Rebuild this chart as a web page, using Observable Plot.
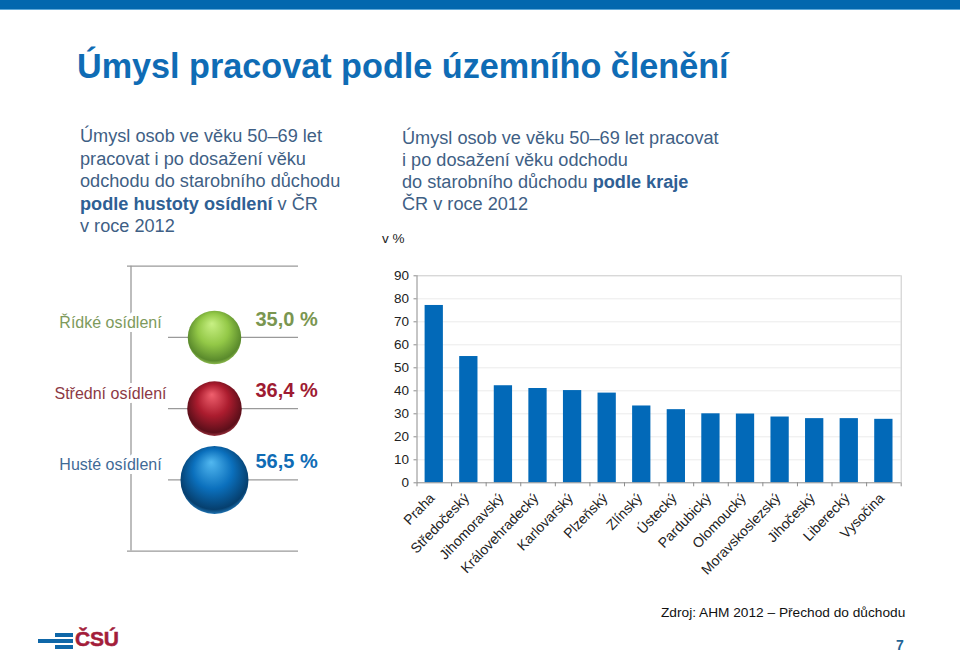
<!DOCTYPE html>
<html lang="cs">
<head>
<meta charset="utf-8">
<script src="https://cdn.jsdelivr.net/npm/d3@7"></script>
<script src="https://cdn.jsdelivr.net/npm/@observablehq/plot@0.6"></script>
<style>
html,body{margin:0;padding:0;background:#fff;}
#page{position:relative;width:960px;height:653px;overflow:hidden;font-family:"Liberation Sans",Arial,sans-serif;}
#page>*{position:absolute;}
#topbar{left:0;top:0;width:960px;height:9px;background:#0267ae;border-bottom:1px solid #5fa8d8;}
#title{left:77px;top:44px;margin:0;font-size:34.2px;font-weight:bold;color:#0f6cb5;line-height:44px;white-space:nowrap;}
.para{font-size:18.15px;line-height:22.6px;color:#3f5f85;white-space:nowrap;}
.para b{color:#2f6094;}
#left-text{left:80px;top:125px;}
#right-text{left:402px;top:127px;line-height:22px;}
#unit{left:382px;top:231px;font-size:13.5px;color:#222;}
#source{left:661px;top:605px;font-size:13.7px;color:#111;white-space:nowrap;}
#pageno{left:896px;top:637px;font-size:14px;font-weight:bold;color:#1f6596;}
#logo-text{left:75px;top:627px;font-size:21px;font-weight:bold;color:#a31d3a;line-height:24px;letter-spacing:-0.2px;-webkit-text-stroke:0.5px #a31d3a;}
.logo-bar{background:#0f67a8;}
#sphere-plot{left:40px;top:255px;}
#bar-plot{left:370px;top:255px;}
</style>
</head>
<body>
<div id="page">
  <div id="topbar"></div>
  <h1 id="title">Úmysl pracovat podle územního členění</h1>
  <div id="left-text" class="para">Úmysl osob ve věku 50–69 let<br>pracovat i po dosažení věku<br>odchodu do starobního důchodu<br><b>podle hustoty osídlení</b> v ČR<br>v roce 2012</div>
  <div id="right-text" class="para">Úmysl osob ve věku 50–69 let pracovat<br>i po dosažení věku odchodu<br>do starobního důchodu <b>podle kraje</b><br>ČR v roce 2012</div>
  <div id="unit">v %</div>
  <div id="sphere-plot"></div>
  <div id="bar-plot"></div>
  <div id="source">Zdroj: AHM 2012 – Přechod do důchodu</div>
  <div id="pageno">7</div>
  <div class="logo-bar" style="left:55px;top:633px;width:18px;height:4px"></div>
  <div class="logo-bar" style="left:38px;top:639px;width:35px;height:4px"></div>
  <div class="logo-bar" style="left:55px;top:645px;width:18px;height:4px"></div>
  <div id="logo-text">ČSÚ</div>
</div>
<script>
const regions = ["Praha","Středočeský","Jihomoravský","Královehradecký","Karlovarský","Plzeňský","Zlínský","Ústecký","Pardubický","Olomoucký","Moravskoslezský","Jihočeský","Liberecký","Vysočina"];
const regionValues = [77.1,54.9,42.2,41,40.1,39,33.4,31.8,30,29.9,28.6,27.9,27.9,27.6];
const yTicks = [0,10,20,30,40,50,60,70,80,90];

const densityLabels = ["Řídké osídlení","Střední osídlení","Husté osídlení"];
const densityValues = [35.0,36.4,56.5];
const densityText = ["35,0 %","36,4 %","56,5 %"];
const labelColors = ["#7d9a5c","#8c3a45","#3f6a96"];
const valueColors = ["#7a9650","#9e1b32","#0f6cb5"];
const sphereStops = [
  ["#c8f084","#93c847","#5a8a2c","#a3cf5e"],
  ["#f0606e","#ab1c2e","#5c0f1a","#b5404e"],
  ["#52b8f0","#0b70bd","#063f6e","#2a8ad0"]
];

/* ---- bar chart ---- */
const bars = regions.map((region,i)=>({region,i,value:regionValues[i]}));
const barPlot = Plot.plot({
  width:560,height:335,
  marginTop:20.3,marginBottom:107.7,marginLeft:46.5,marginRight:29.3,
  style:{fontFamily:'"Liberation Sans",Arial,sans-serif',background:"transparent",overflow:"visible"},
  x:{type:"linear",domain:[0,regions.length]},
  y:{domain:[0,90]},
  marks:[
    Plot.ruleY(yTicks.slice(1,-1),{stroke:"#ececec",strokeWidth:1}),
    Plot.ruleY([90],{stroke:"#c8c8c8",strokeWidth:1}),
    Plot.ruleX([regions.length],{stroke:"#c8c8c8",strokeWidth:1}),
    Plot.rectY(bars,{x1:"i",x2:d=>d.i+1,y:"value",fill:"#0269b8",insetLeft:8.1,insetRight:8.2}),
    Plot.ruleX([0],{stroke:"#8c8c8c",strokeWidth:1}),
    Plot.ruleY([0],{stroke:"#8c8c8c",strokeWidth:1}),
    Plot.axisY({ticks:yTicks,tickSize:3,tickPadding:5,stroke:"#8c8c8c",fontSize:13.5,color:"#222",label:null}),
    Plot.axisX({ticks:d3.range(0,regions.length+1),tickSize:4,tickFormat:()=>"",stroke:"#8c8c8c",label:null}),
    Plot.axisX({ticks:regions.map((_,i)=>i+0.5),tickFormat:d=>regions[d-0.5],tickSize:0,tickPadding:13,tickRotate:-46,
      dx:-2,textAnchor:"end",fontSize:14,color:"#222",label:null})
  ]
});
document.getElementById("bar-plot").append(barPlot);

/* ---- spheres panel ---- */
const rows = densityLabels.map((label,i)=>({label,row:i+1,value:densityValues[i],text:densityText[i],
  labelColor:labelColors[i],valueColor:valueColors[i],grad:`url(#sphere${i})`}));
function defs(){
  const d = d3.create("svg:defs");
  sphereStops.forEach((s,i)=>{
    const g = d.append("radialGradient").attr("id","sphere"+i).attr("cx","50%").attr("cy","45%").attr("r","58%").attr("fx","45%").attr("fy","24%");
    [[0,s[0]],[0.5,s[1]],[0.88,s[2]],[1,s[3]]].forEach(([o,c])=>g.append("stop").attr("offset",o).attr("stop-color",c));
  });
  return d.node();
}
const spherePlot = Plot.plot({
  width:300,height:300,margin:0,
  style:{fontFamily:'"Liberation Sans",Arial,sans-serif',background:"transparent",overflow:"visible"},
  x:{domain:[0,300],axis:null},
  y:{domain:[0,4],range:[10.7,295.6],axis:null},
  r:{type:"sqrt",domain:[0,56.5],range:[0,34]},
  color:{type:"identity"},
  marks:[
    defs,
    Plot.ruleY([0,4],{x1:87,x2:258,stroke:"#9a9a9a",strokeWidth:1.3}),
    Plot.ruleY(rows,{y:"row",x1:128,x2:258,stroke:"#9a9a9a",strokeWidth:1.3}),
    Plot.ruleX([90.5],{y1:0,y2:4,stroke:"#9a9a9a",strokeWidth:1.3}),
    Plot.dot(rows,{x:()=>174,y:"row",r:"value",fill:"grad"}),
    Plot.text(rows,{x:()=>70,y:"row",dy:-15,text:"label",fill:"labelColor",fontSize:16,stroke:"white",strokeWidth:8}),
    Plot.text(rows,{x:()=>215,y:"row",dy:-18,text:"text",fill:"valueColor",fontSize:20,fontWeight:"bold",textAnchor:"start"})
  ]
});
document.getElementById("sphere-plot").append(spherePlot);
</script>
</body>
</html>
